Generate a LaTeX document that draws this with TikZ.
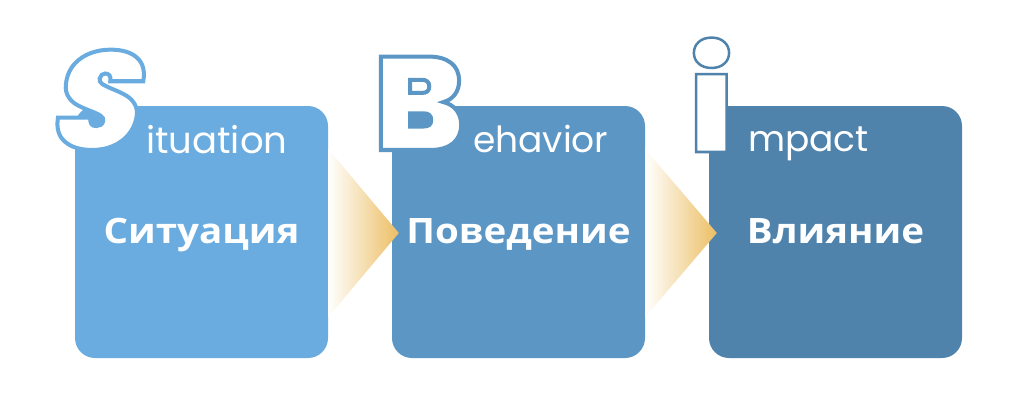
\documentclass[tikz,border=0pt]{standalone}
\usepackage{fontspec}
\usetikzlibrary{calc}
\setmainfont{Poppins}
\IfFontExistsTF{Poppins Black}{\def\heavyname{Poppins Black}}{%
  \IfFontExistsTF{Poppins ExtraBold}{\def\heavyname{Poppins ExtraBold}}{\def\heavyname{Poppins Bold}}}
\expandafter\newfontfamily\expandafter\heavyfont\expandafter{\heavyname}
\expandafter\newfontfamily\expandafter\heavyslant\expandafter{\heavyname}[FakeSlant=0.22]
\newfontfamily\cyrbold{Open Sans Bold}[FakeStretch=1.1]
\definecolor{cA}{HTML}{6AACDF}
\definecolor{cB}{HTML}{5B96C5}
\definecolor{cC}{HTML}{5083AC}
\definecolor{gold}{HTML}{ECBE64}
\newcommand\outlined[3]{\special{pdf:literal direct 2 Tr #2 w #1 RG}#3\special{pdf:literal direct 0 Tr}}
\begin{document}
\begin{tikzpicture}[x=1pt,y=-1pt,
  boxnode/.style={rounded corners=20pt,minimum width=253pt,minimum height=252pt,inner sep=0pt},
  cyr/.style={text=white,font=\cyrbold\fontsize{35}{40}\selectfont,inner sep=0pt,anchor=base},
  lat/.style={text=white,font=\fontsize{36}{40}\selectfont,inner sep=0pt,anchor=base west},
  big/.style={text=white,inner sep=0pt,anchor=base west},
  arrowshade/.style={left color=white,right color=gold}]
\useasboundingbox (0,0) rectangle (1024,410);
\node[boxnode,fill=cA] (b1) at (201.5,232) {};
\node[boxnode,fill=cB] (b2) at (518.5,232) {};
\node[boxnode,fill=cC] (b3) at (835.5,232) {};
\shade[arrowshade] ($(b1.east)+(0,-83)$) -- ($(b2.west)+(7,1)$) -- ($(b1.east)+(0,85)$) -- cycle;
\shade[arrowshade] ($(b2.east)+(0,-83)$) -- ($(b3.west)+(8,1)$) -- ($(b2.east)+(0,85)$) -- cycle;
\node[cyr] (t1) at (201.5,243) {Ситуация};
\node[cyr] (t2) at (518.5,243) {Поведение};
\node[cyr] (t3) at (835.5,243) {Влияние};
\node[big,font=\heavyslant\fontsize{138}{138}\selectfont] (S) at (47,149) {\outlined{0.416 0.675 0.875}{4}{S}};
\node[big,font=\heavyfont\fontsize{132}{132}\selectfont] (B) at (374,150) {\outlined{0.357 0.588 0.773}{4}{B}};
\node[big,font=\heavyfont\fontsize{138}{138}\selectfont] (I) at (689,152) {\outlined{0.314 0.514 0.675}{2.5}{i}};
\node[lat,font=\fontsize{37}{40}\selectfont] (l1) at (146,153) {ituation};
\node[lat] (l2) at (473,152) {ehavior};
\node[lat] (l3) at (748,151) {mpact};
\end{tikzpicture}
\end{document}
